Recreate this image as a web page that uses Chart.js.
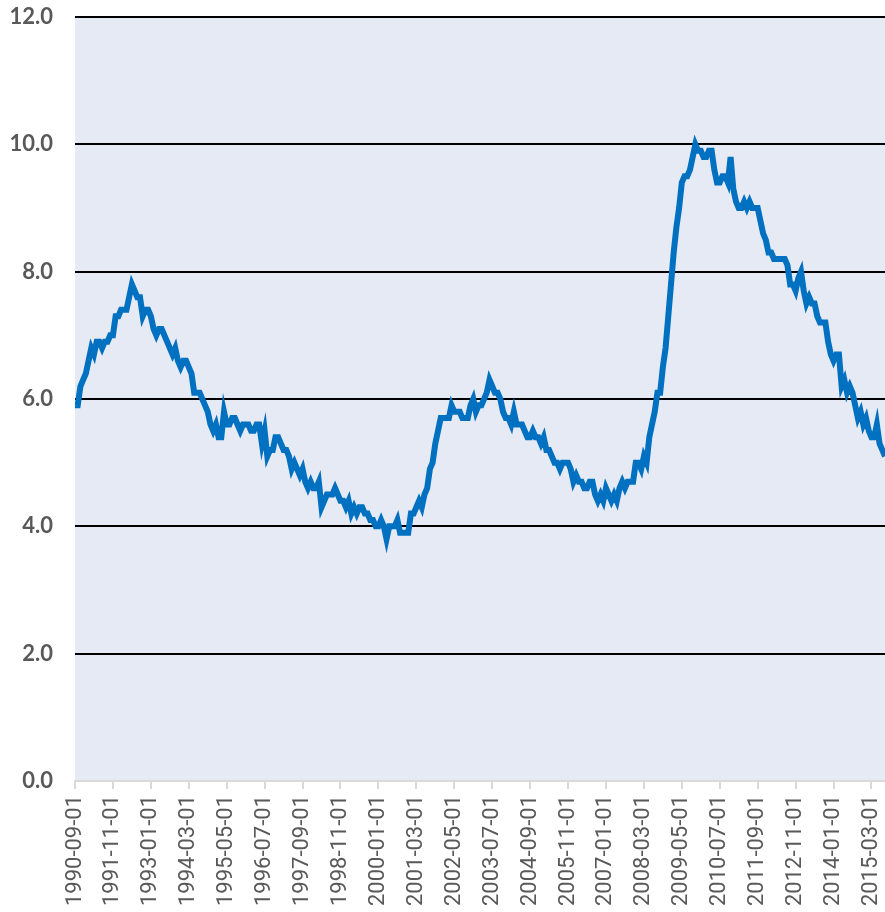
<!DOCTYPE html>
<html>
<head>
<meta charset="utf-8">
<script src="https://cdn.jsdelivr.net/npm/chart.js@4.4.1/dist/chart.umd.min.js"></script>
<style>
  html, body { margin: 0; padding: 0; background: #fff; }
  canvas { display: block; }
</style>
</head>
<body>
<canvas id="rateChart" width="885" height="912"></canvas>
<script>
// Monthly unemployment rate (%), starting 1990-09
const startYear = 1990;
const startMonth = 9;
const rates = [
    5.9, 5.9, 6.2, 6.3,                                            // 1990 Sep-Dec
    6.4, 6.6, 6.8, 6.7, 6.9, 6.9, 6.8, 6.9, 6.9, 7.0, 7.0, 7.3,    // 1991
    7.3, 7.4, 7.4, 7.4, 7.6, 7.8, 7.7, 7.6, 7.6, 7.3, 7.4, 7.4,    // 1992
    7.3, 7.1, 7.0, 7.1, 7.1, 7.0, 6.9, 6.8, 6.7, 6.8, 6.6, 6.5,    // 1993
    6.6, 6.6, 6.5, 6.4, 6.1, 6.1, 6.1, 6.0, 5.9, 5.8, 5.6, 5.5,    // 1994
    5.6, 5.4, 5.4, 5.8, 5.6, 5.6, 5.7, 5.7, 5.6, 5.5, 5.6, 5.6,    // 1995
    5.6, 5.5, 5.5, 5.6, 5.6, 5.3, 5.5, 5.1, 5.2, 5.2, 5.4, 5.4,    // 1996
    5.3, 5.2, 5.2, 5.1, 4.9, 5.0, 4.9, 4.8, 4.9, 4.7, 4.6, 4.7,    // 1997
    4.6, 4.6, 4.7, 4.3, 4.4, 4.5, 4.5, 4.5, 4.6, 4.5, 4.4, 4.4,    // 1998
    4.3, 4.4, 4.2, 4.3, 4.2, 4.3, 4.3, 4.2, 4.2, 4.1, 4.1, 4.0,    // 1999
    4.0, 4.1, 4.0, 3.8, 4.0, 4.0, 4.0, 4.1, 3.9, 3.9, 3.9, 3.9,    // 2000
    4.2, 4.2, 4.3, 4.4, 4.3, 4.5, 4.6, 4.9, 5.0, 5.3, 5.5, 5.7,    // 2001
    5.7, 5.7, 5.7, 5.9, 5.8, 5.8, 5.8, 5.7, 5.7, 5.7, 5.9, 6.0,    // 2002
    5.8, 5.9, 5.9, 6.0, 6.1, 6.3, 6.2, 6.1, 6.1, 6.0, 5.8, 5.7,    // 2003
    5.7, 5.6, 5.8, 5.6, 5.6, 5.6, 5.5, 5.4, 5.4, 5.5, 5.4, 5.4,    // 2004
    5.3, 5.4, 5.2, 5.2, 5.1, 5.0, 5.0, 4.9, 5.0, 5.0, 5.0, 4.9,    // 2005
    4.7, 4.8, 4.7, 4.7, 4.6, 4.6, 4.7, 4.7, 4.5, 4.4, 4.5, 4.4,    // 2006
    4.6, 4.5, 4.4, 4.5, 4.4, 4.6, 4.7, 4.6, 4.7, 4.7, 4.7, 5.0,    // 2007
    5.0, 4.9, 5.1, 5.0, 5.4, 5.6, 5.8, 6.1, 6.1, 6.5, 6.8, 7.3,    // 2008
    7.8, 8.3, 8.7, 9.0, 9.4, 9.5, 9.5, 9.6, 9.8, 10.0, 9.9, 9.9,   // 2009
    9.8, 9.8, 9.9, 9.9, 9.6, 9.4, 9.4, 9.5, 9.5, 9.4, 9.8, 9.3,    // 2010
    9.1, 9.0, 9.0, 9.1, 9.0, 9.1, 9.0, 9.0, 9.0, 8.8, 8.6, 8.5,    // 2011
    8.3, 8.3, 8.2, 8.2, 8.2, 8.2, 8.2, 8.1, 7.8, 7.8, 7.7, 7.9,    // 2012
    8.0, 7.7, 7.5, 7.6, 7.5, 7.5, 7.3, 7.2, 7.2, 7.2, 6.9, 6.7,    // 2013
    6.6, 6.7, 6.7, 6.2, 6.3, 6.1, 6.2, 6.1, 5.9, 5.7, 5.8, 5.6,    // 2014
    5.7, 5.5, 5.4, 5.4, 5.6, 5.3, 5.2, 5.1                         // 2015 Jan-Aug
];

// y axis ticks
const yTicks = [0, 2, 4, 6, 8, 10, 12];
// every 14th month gets a label
const labelEvery = 14;

// build YYYY-MM-01 category labels
const months = [];
for (let i = 0; i < rates.length; i++) {
    const m = startMonth - 1 + i;
    const y = startYear + Math.floor(m / 12);
    const mm = (m % 12) + 1;
    months.push(y + '-' + String(mm).padStart(2, '0') + '-01');
}

// drop the room Chart.js keeps for labels at the scale ends
function noEdgePadding(scale) {
    scale.paddingTop = 0;
    scale.paddingBottom = 0;
    scale.paddingLeft = 0;
    scale.paddingRight = 0;
}

const plotBackground = {
    id: 'plotBackground',
    beforeDraw(chart) {
        const { ctx, chartArea: a } = chart;
        ctx.save();
        ctx.fillStyle = '#ffffff';
        ctx.fillRect(0, 0, chart.width, chart.height);
        ctx.fillStyle = '#e6eaf5';
        ctx.fillRect(a.left, a.top, a.right - a.left, a.bottom - a.top);
        ctx.restore();
    }
};

const ctx = document.getElementById('rateChart').getContext('2d');

const rateChart = new Chart(ctx, {
    type: 'line',
    data: {
        labels: months,
        datasets: [{
            label: 'Unemployment rate',
            data: rates,
            borderColor: '#0070c0',
            borderWidth: 6,
            pointRadius: 0,
            tension: 0,
            fill: false
        }]
    },
    options: {
        responsive: false,
        animation: false,
        layout: { padding: { top: 17, right: 0, bottom: 0, left: 0 } },
        plugins: {
            legend: { display: false },
            tooltip: { enabled: false }
        },
        scales: {
            x: {
                type: 'category',
                offset: false,
                afterFit(scale) {
                    scale.height = 131;
                    noEdgePadding(scale);
                },
                grid: {
                    drawOnChartArea: false,
                    drawTicks: true,
                    tickLength: 8,
                    color: '#d9d9d9',
                    lineWidth: 2
                },
                border: { color: '#d9d9d9', width: 2 },
                ticks: {
                    autoSkip: false,
                    maxRotation: 90,
                    minRotation: 90,
                    padding: 6,
                    color: '#595959',
                    font: { family: 'Roboto', size: 22 },
                    callback: (v, i) => (i % labelEvery === 0 ? months[i] : null)
                }
            },
            y: {
                min: yTicks[0],
                max: yTicks[yTicks.length - 1],
                afterFit(scale) {
                    scale.width = 75;
                    noEdgePadding(scale);
                },
                afterBuildTicks(scale) {
                    scale.ticks = yTicks.map(v => ({ value: v }));
                },
                grid: {
                    drawTicks: false,
                    color: c => (c.tick && c.tick.value === 0 ? 'rgba(0,0,0,0)' : '#000000'),
                    lineWidth: 2
                },
                border: { display: false },
                ticks: {
                    padding: 22,
                    color: '#595959',
                    font: { family: 'Lato', size: 22, weight: 'bold' },
                    callback: v => v.toFixed(1)
                }
            }
        }
    },
    plugins: [plotBackground]
});
</script>
</body>
</html>
